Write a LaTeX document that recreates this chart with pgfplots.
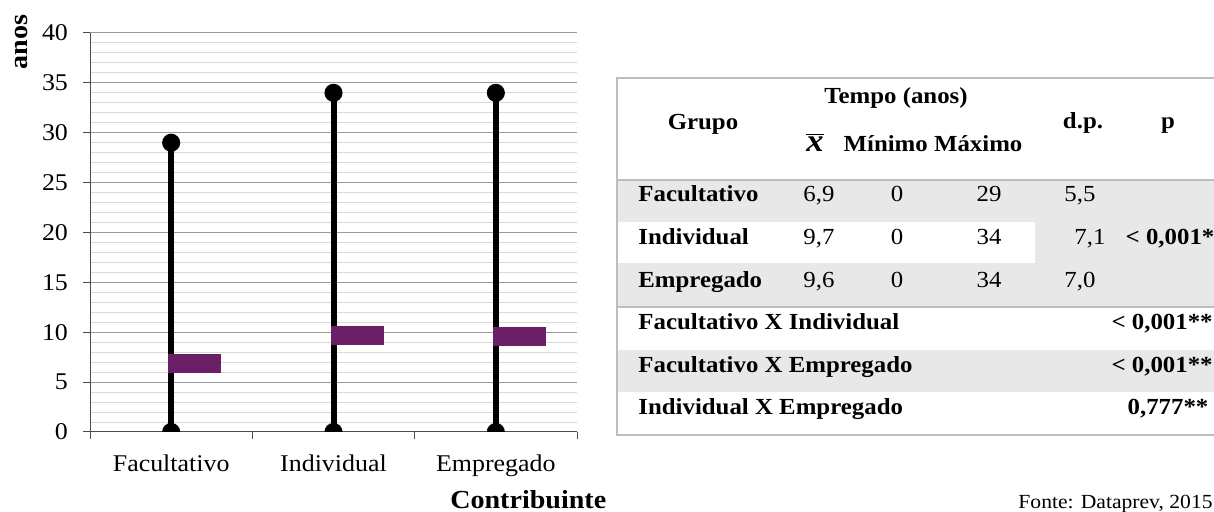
\documentclass[border=0pt]{standalone}
\usepackage{fontspec}
\setmainfont{Liberation Serif}[FakeStretch=1.08]
\usepackage{pgfplots}
\pgfplotsset{compat=1.18}
\definecolor{meanpurple}{RGB}{107,31,102}
\definecolor{tgray}{RGB}{232,232,232}
\definecolor{tborder}{RGB}{190,190,190}
\pgfdeclareplotmark{meanbar}{%
  \pgfpathrectangle{\pgfpoint{-1.5pt}{-4.7pt}}{\pgfpoint{26.5pt}{9.4pt}}%
  \pgfusepathqfill}
\begin{document}
\begin{tikzpicture}
\path[use as bounding box] (0,0) rectangle (607pt,256pt);
\begin{axis}[
  at={(45pt,40pt)}, anchor=south west,
  scale only axis, width=243.5pt, height=199.5pt,
  xmin=-0.5, xmax=2.5, ymin=0, ymax=40,
  axis lines=left, axis line style={-, draw=black!70, line width=0.5pt},
  ytick={0,5,...,40}, minor y tick num=4,
  ymajorgrids, yminorgrids,
  major grid style={draw=black!40, line width=0.5pt},
  minor grid style={draw=black!15, line width=0.5pt},
  minor tick length=0pt,
  tick align=outside, major tick length=3.5pt,
  tick style={draw=black!70, line width=0.5pt},
  xtick={-0.5,0.5,1.5,2.5}, xticklabels={{},{},{},{}},
  extra x ticks={0,1,2},
  extra x tick labels={Facultativo,Individual,Empregado},
  extra x tick style={major tick length=0pt, xticklabel style={yshift=-8pt}},
  clip marker paths=true,
  /pgf/number format/assume math mode=true,
  tick label style={font=\fontsize{12}{14}\selectfont},
  yticklabel style={xshift=-4pt},
  xlabel={\textbf{Contribuinte}},
  xlabel style={at={(axis description cs:0.9,0)}, anchor=center, yshift=-34pt, font=\fontsize{13}{15}\selectfont},
  ylabel={\textbf{anos}},
  ylabel style={at={(axis description cs:0,0.978)}, anchor=center, yshift=34pt, font=\fontsize{13}{15}\selectfont},
]
\addplot[black, line width=3pt, mark=*, mark size=3pt, mark options={draw=none, fill=black}] coordinates {(0,0) (0,29)};
\addplot[black, line width=3pt, mark=*, mark size=3pt, mark options={draw=none, fill=black}] coordinates {(1,0) (1,34)};
\addplot[black, line width=3pt, mark=*, mark size=3pt, mark options={draw=none, fill=black}] coordinates {(2,0) (2,34)};
\addplot[only marks, mark=meanbar, color=meanpurple] coordinates {(0,6.9) (1,9.7) (2,9.6)};
\end{axis}
\begin{scope}[x=0.5pt, y=-0.5pt, shift={(0pt,256pt)},
  tb/.style={inner sep=0pt, text height=0.68em, text depth=0pt, font=\fontsize{11.5}{13}\selectfont\bfseries},
  tn/.style={inner sep=0pt, text height=0.68em, text depth=0pt, font=\fontsize{11.5}{13}\selectfont}]
\fill[tgray] (617,180) rectangle (1214,306);
\fill[white] (617,222) rectangle (1035,263);
\fill[tgray] (617,350) rectangle (1214,392);
\draw[tborder, line width=0.75pt] (1214,78) -- (617,78) -- (617,435) -- (1214,435);
\draw[tborder, line width=0.75pt] (617,180) -- (1214,180);
\draw[tborder, line width=0.75pt] (617,307) -- (1214,307);
\node[tb] at (896,97) {Tempo (anos)};
\node[tb] at (703,123) {Grupo};
\node[tb, font=\fontsize{16}{18}\selectfont] at (815,145) {$\overline{\textbf{\textit{x}}}$};
\node[tb] at (933,145) {Mínimo Máximo};
\node[tb] at (1083,122) {d.p.};
\node[tb] at (1168,122) {p};
\node[tb, anchor=west] at (638,195) {Facultativo};
\node[tb, anchor=west] at (638,238) {Individual};
\node[tb, anchor=west] at (638,281) {Empregado};
\node[tn] at (819,195) {6,9};
\node[tn] at (897,195) {0};
\node[tn] at (989,195) {29};
\node[tn] at (1080,195) {5,5};
\node[tn] at (819,238) {9,7};
\node[tn] at (897,238) {0};
\node[tn] at (989,238) {34};
\node[tn] at (1090,238) {7,1};
\node[tn] at (819,281) {9,6};
\node[tn] at (897,281) {0};
\node[tn] at (989,281) {34};
\node[tn] at (1080,281) {7,0};
\node[tb] at (1170,238) {< 0,001*};
\node[tb, anchor=west] at (638,323) {Facultativo X Individual};
\node[tb, anchor=west] at (638,366) {Facultativo X Empregado};
\node[tb, anchor=west] at (638,408) {Individual X Empregado};
\node[tb, anchor=east] at (1213,323) {< 0,001**};
\node[tb, anchor=east] at (1213,366) {< 0,001**};
\node[tb] at (1168,408) {0,777**};
\node[tn, anchor=east, font=\fontsize{10}{12}\selectfont] at (1213,502) {Fonte: Dataprev, 2015};
\end{scope}
\end{tikzpicture}
\end{document}
